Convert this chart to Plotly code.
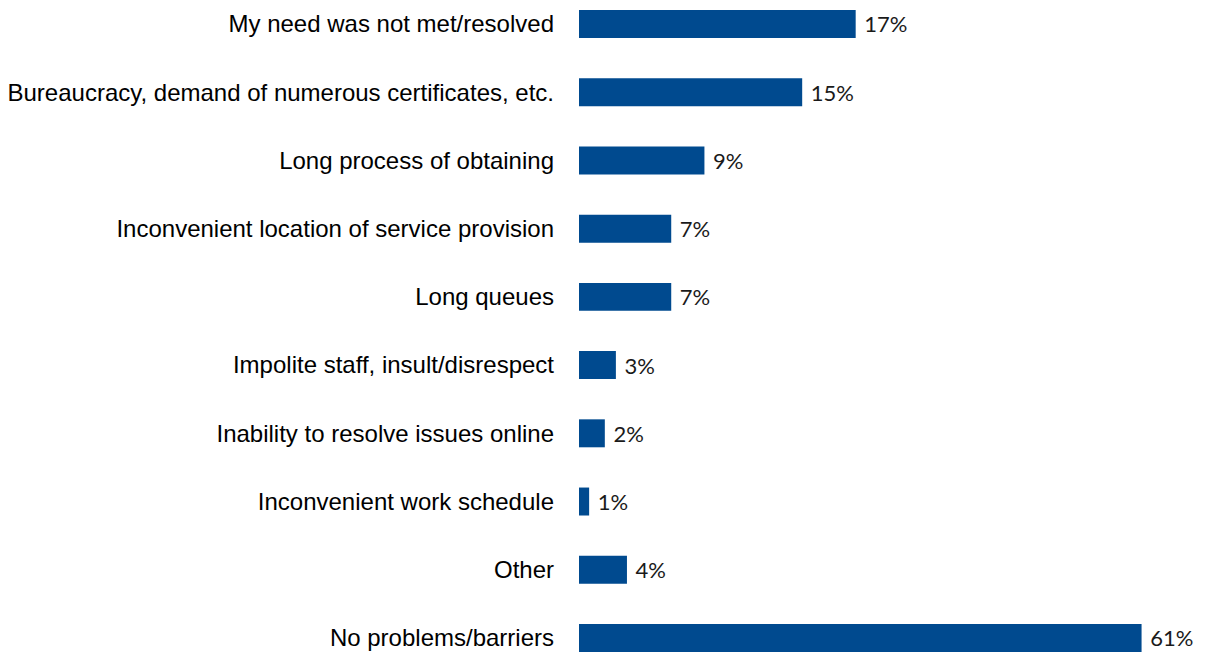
'''
    Horizontal bar chart: problems/barriers faced when receiving services.
'''
import plotly.graph_objects as go

categories = [
    "My need was not met/resolved",
    "Bureaucracy, demand of numerous certificates, etc.",
    "Long process of obtaining",
    "Inconvenient location of service provision",
    "Long queues",
    "Impolite staff, insult/disrespect",
    "Inability to resolve issues online",
    "Inconvenient work schedule",
    "Other",
    "No problems/barriers",
]
# shares as labelled on the chart
share_labels = ["17%", "15%", "9%", "7%", "7%", "3%", "2%", "1%", "4%", "61%"]
# bar lengths as drawn in the picture (the original scale is not linear
# with the labels), expressed in units where the 61% bar is 61
bar_length = [30.0, 24.2, 13.6, 10.0, 10.0, 4.0, 2.8, 1.1, 5.2, 61.0]

bar_color = '#004a8f'
positions = list(range(len(categories)))

fig = go.Figure()
fig.add_trace(go.Bar(
    x=bar_length,
    y=positions,
    orientation='h',
    width=0.41,
    marker=dict(color=bar_color, line=dict(width=0)),
    text=['\u00a0' + s for s in share_labels],
    textposition='outside',
    constraintext='none',
    cliponaxis=False,
    textfont=dict(family='Lato', size=22, color='#1a1a1a'),
    hoverinfo='skip',
))

# the page body adds an 8px margin, so the figure is 8px smaller each way
fig.update_layout(
    width=1208,
    height=649,
    margin=dict(l=566, r=0, t=0, b=0),
    plot_bgcolor='#ffffff',
    paper_bgcolor='#ffffff',
    showlegend=False,
    font=dict(family='Liberation Sans, Arial', size=24, color='#000000'),
)
fig.update_xaxes(range=[0, 69.07], visible=False, showgrid=False, zeroline=False)
fig.update_yaxes(
    range=[9.279, -0.2345],
    tickvals=positions,
    ticktext=categories,
    showgrid=False,
    zeroline=False,
    showline=False,
    ticks='',
    ticklabelstandoff=24,
    tickfont=dict(family='Liberation Sans, Arial', size=24, color='#000000'),
)

fig.write_html("out.html")
